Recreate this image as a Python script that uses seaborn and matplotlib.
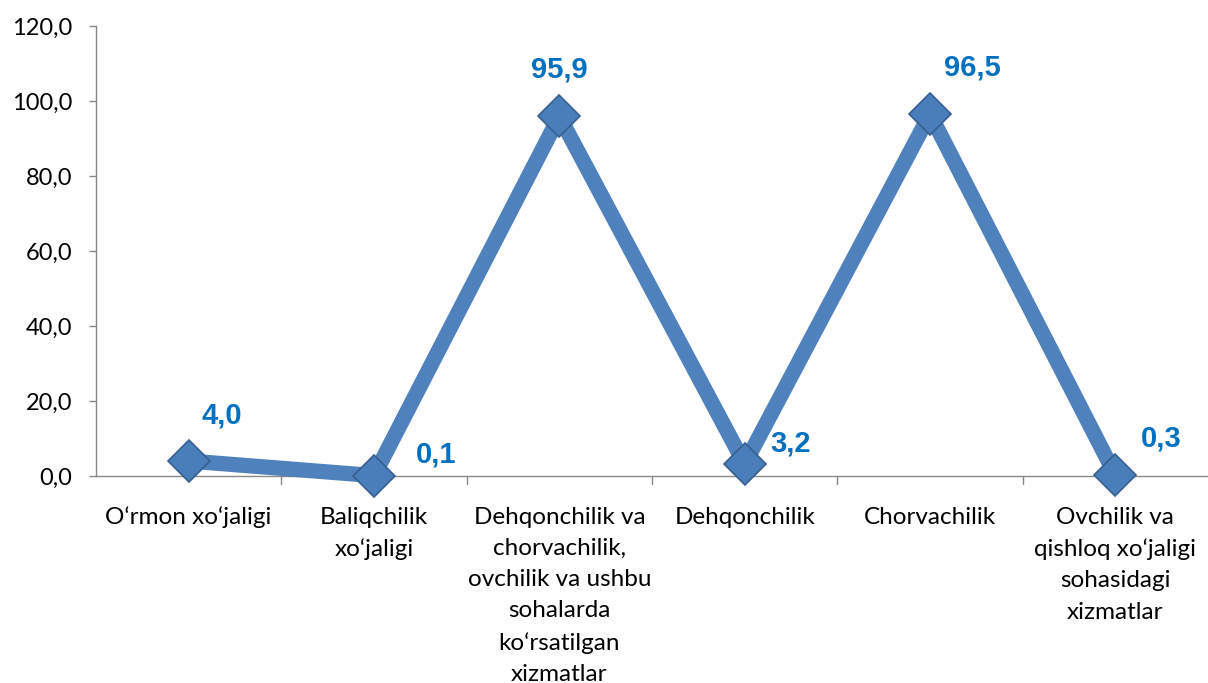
import matplotlib
matplotlib.use("Agg")
import matplotlib.pyplot as plt
import seaborn as sns
import pandas as pd

categories = ["O‘rmon xo‘jaligi", "Baliqchilik\nxo‘jaligi",
              "Dehqonchilik va\nchorvachilik,\novchilik va ushbu\nsohalarda\nko‘rsatilgan\nxizmatlar",
              "Dehqonchilik", "Chorvachilik",
              "Ovchilik va\nqishloq xo‘jaligi\nsohasidagi\nxizmatlar"]
values = [4.0, 0.1, 95.9, 3.2, 96.5, 0.3]
yticks = [0, 20, 40, 60, 80, 100, 120]

# label offsets in pixels (dx, dy)
offsets = [(33, 45), (62, 21), (0, 47), (46, 20), (42, 47), (46, 36)]

sns.set_style("white")
plt.rcParams['font.family'] = ['Lato', 'DejaVu Sans']
plt.rcParams['text.color'] = 'black'
plt.rcParams['xtick.color'] = 'black'
plt.rcParams['ytick.color'] = 'black'

fig = plt.figure(figsize=(12.08, 6.83), dpi=100)
ax = fig.add_axes([96/1208, (683-476)/683, (1208-96)/1208, 450/683])

df = pd.DataFrame({"x": range(len(values)), "y": values})
sns.lineplot(data=df, x="x", y="y", ax=ax, color="#4F81BD", linewidth=11,
             marker="D", markersize=21, markerfacecolor="#4A7EBB",
             markeredgecolor="#35608F", markeredgewidth=1.2, zorder=3, clip_on=False)

for i, v in enumerate(values):
    dx, dy = offsets[i]
    ax.annotate(f"{v:.1f}".replace(".", ","), (i, v), xytext=(dx * 0.72, dy * 0.72),
                textcoords="offset points", ha="center", va="center",
                fontsize=21, fontweight="bold", color="#0070C0",
                family=["Liberation Sans", "DejaVu Sans"], annotation_clip=False)

ax.set_xlim(-0.5, len(values) - 0.5)
ax.set_ylim(0, 120)
ax.set_yticks(yticks)
ax.set_yticklabels([f"{t:.1f}".replace(".", ",") for t in yticks], fontsize=17)
ax.set_xticks(range(len(values)))
ax.set_xticklabels(categories, fontsize=17.5, linespacing=1.6)
ax.tick_params(axis="x", length=0, pad=22, colors="black")
ax.tick_params(axis="y", length=5, width=1, color="#888888", labelcolor="black", pad=12, left=True)
for t in [i + 0.5 for i in range(len(values) - 1)]:
    ax.plot([t, t], [0, -2], color="#888888", lw=1, clip_on=False, zorder=1)
ax.set_xlabel("")
ax.set_ylabel("")
for s in ["top", "right"]:
    ax.spines[s].set_visible(False)
for s in ["left", "bottom"]:
    ax.spines[s].set_color("#888888")
    ax.spines[s].set_linewidth(1)

fig.savefig("out.png", dpi=100)
